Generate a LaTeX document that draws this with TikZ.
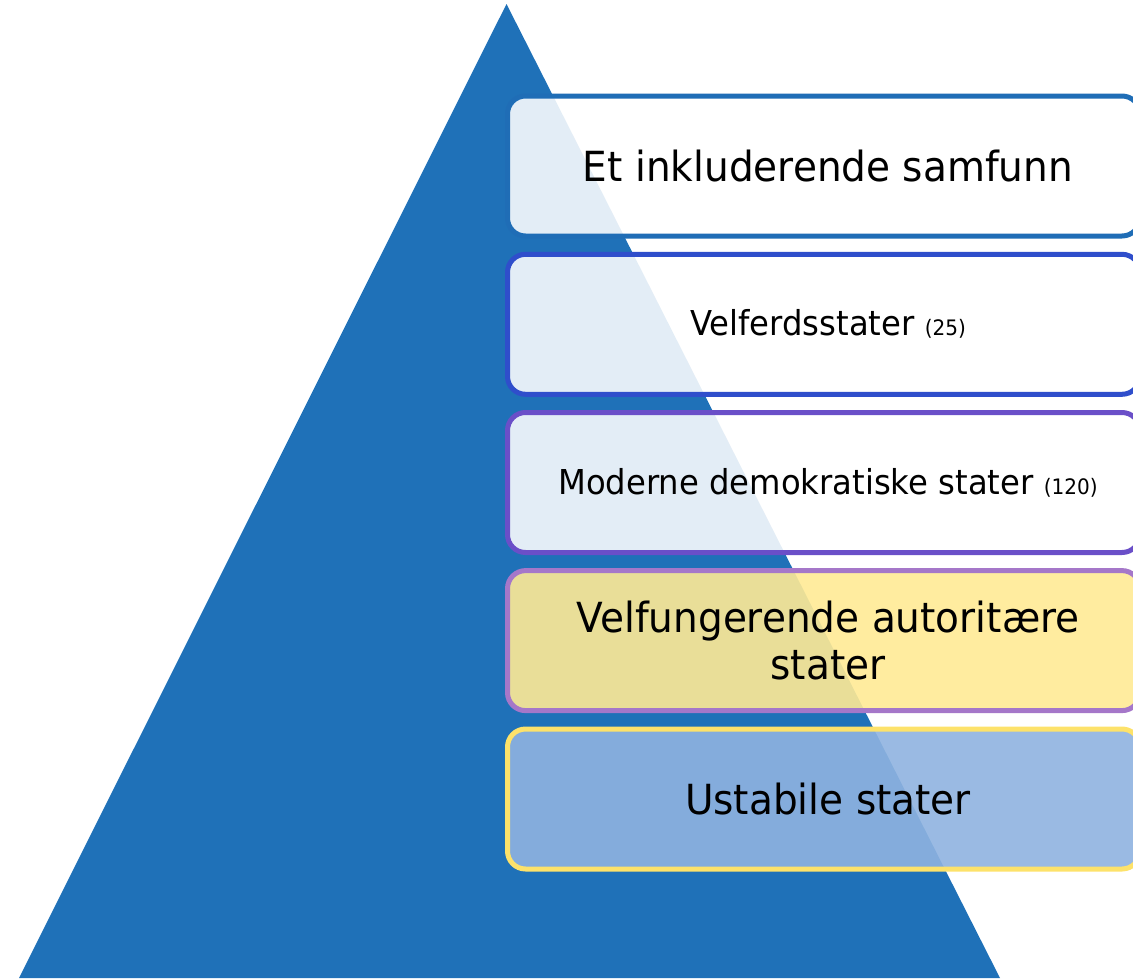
\documentclass[tikz,border=0pt]{standalone}
\usepackage{fontspec}
\setmainfont[FakeStretch=0.94]{DejaVu Sans}
\definecolor{triblue}{HTML}{1F71B8}
\definecolor{bordA}{HTML}{1F6DB6}
\definecolor{bordB}{HTML}{2F4ECB}
\definecolor{bordC}{HTML}{6A4FC8}
\definecolor{bordD}{HTML}{A577C9}
\definecolor{bordE}{HTML}{FDE26A}
\definecolor{fillD}{HTML}{FFEA95}
\definecolor{fillE}{HTML}{8FB3E0}
\newcommand\tierbig{\fontsize{41.5}{47}\selectfont}
\newcommand\tiermid{\fontsize{34.3}{40}\selectfont}
\newcommand\tiersmall{\fontsize{21.3}{25}\selectfont}
\begin{document}
\begin{tikzpicture}[x=1pt,y=-1pt,
  tier/.style={draw, line width=5pt, rounded corners=18pt, minimum width=632.5pt,
    minimum height=140pt, inner sep=0pt, fill=white, fill opacity=0.88},
  tiertext/.style={inner sep=0pt, text=black, align=center, xshift=4.25pt}]
\useasboundingbox (0,0) rectangle (1133,978);
\fill[triblue] (506.5,4) -- (1000,978) -- (19,978) -- cycle;
\node[tier, draw=bordA] (b1) at (823.75,166) {};
\node[tier, draw=bordB] (b2) at (823.75,324.3) {};
\node[tier, draw=bordC] (b3) at (823.75,482.5) {};
\node[tier, draw=bordD, fill=fillD, fill opacity=0.9] (b4) at (823.75,640.6) {};
\node[tier, draw=bordE, fill=fillE, fill opacity=0.9] (b5) at (823.75,799) {};
\node[tiertext, font=\tierbig] (t1) at (b1.center) {Et inkluderende samfunn};
\node[tiertext, font=\tiermid] (t2) at (b2.center) {Velferdsstater {\tiersmall(25)}};
\node[tiertext, font=\tiermid] (t3) at (b3.center) {Moderne demokratiske stater {\tiersmall(120)}};
\node[tiertext, font=\tierbig] (t4) at (b4.center) {Velfungerende autoritære\\stater};
\node[tiertext, font=\tierbig] (t5) at (b5.center) {Ustabile stater};
\end{tikzpicture}
\end{document}
